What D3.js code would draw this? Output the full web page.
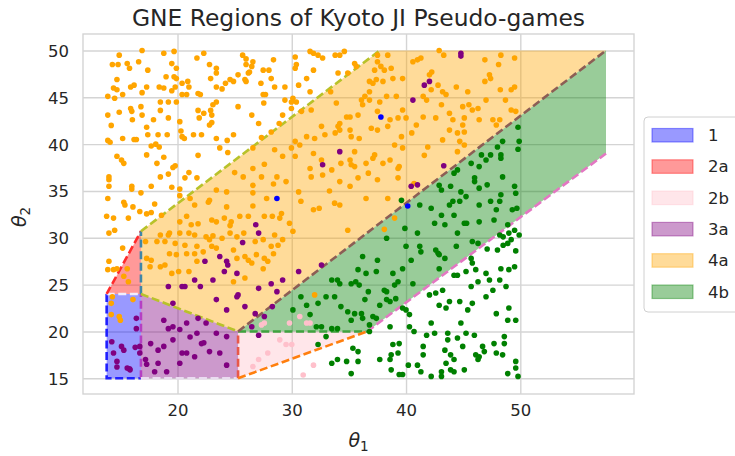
<!DOCTYPE html>
<html><head><meta charset="utf-8">
<script src="https://cdnjs.cloudflare.com/ajax/libs/d3/7.8.5/d3.min.js"></script>
<style>body{margin:0;background:#fff}svg{display:block}text{font-family:"DejaVu Sans",sans-serif;fill:#262626}</style>
</head><body><svg id="c" width="735" height="456"></svg>
<script>
const titleText = "GNE Regions of Kyoto JI Pseudo-games";
const xTicks = [20, 30, 40, 50];
const yTicks = [15, 20, 25, 30, 35, 40, 45, 50];
const legendLabels = ["1", "2a", "2b", "3a", "4a", "4b"];

const region1  = [[13.8,15],[16.8,15],[16.8,24],[13.8,24]];
const region2a = [[13.8,24],[16.8,30.7],[16.8,24]];
const region2b = [[25.3,20],[36.6,20],[25.3,15]];
const region3a = [[16.8,24],[25.3,20],[25.3,15],[16.8,15]];
const region4a = [[16.8,24],[16.8,30.7],[37.7,50],[57.5,50],[25.3,20]];
const region4b = [[25.3,20],[57.5,50],[57.5,39],[36.6,20]];

const boundaries = [
  [[13.8,24],[13.8,15],[16.8,15]],
  [[13.8,24],[16.8,24]],
  [[16.8,15],[16.8,24]],
  [[13.8,24],[16.8,30.7]],
  [[16.8,24],[16.8,30.7]],
  [[16.8,24],[25.3,20]],
  [[16.8,30.7],[37.7,50]],
  [[16.8,15],[25.3,15]],
  [[25.3,15],[25.3,20]],
  [[25.3,20],[36.6,20]],
  [[25.3,15],[36.6,20]],
  [[25.3,20],[57.5,50]],
  [[36.6,20],[57.5,39]]
];

const ptsOrange = [
[14.9,49.5],[16.9,50.0],[18.8,49.7],[19.7,49.9],[21.7,49.2],[22.3,49.7],[25.7,49.5],[26.0,49.1],[26.6,48.8],
[14.3,48.5],[14.8,48.5],[15.6,48.6],[15.8,48.1],[16.6,48.8],[17.4,47.9],[19.5,48.6],[19.9,48.1],[22.8,48.5],[23.4,48.1],[23.4,47.6],[26.0,48.5],[26.5,48.3],[26.3,47.7],[27.5,47.9],[28.0,47.9],
[14.7,46.9],[14.4,46.0],[14.7,45.8],[15.2,45.3],[15.9,46.1],[16.2,46.3],[16.9,45.5],[17.3,46.1],[18.4,46.1],[18.8,46.0],[19.0,47.2],[19.7,47.2],[19.9,47.0],[19.5,45.7],[19.8,46.1],[20.4,46.5],[20.9,46.7],[21.0,46.1],[20.4,45.3],[20.8,45.3],[21.8,45.4],[22.0,45.3],[22.9,47.0],[23.4,46.1],[23.9,45.9],[24.2,46.5],[24.6,46.9],[24.9,46.7],[25.3,47.4],[25.9,46.9],[26.2,47.6],[26.0,46.7],[27.3,46.5],[27.5,45.3],[13.9,45.1],[14.5,44.9],
[18.5,44.5],[19.2,44.5],[19.9,44.5],[15.9,43.8],[16.0,43.5],[16.8,44.0],[16.9,43.1],[18.5,43.6],[14.9,43.4],[13.9,43.1],[16.05,42.6],[17.9,42.6],[19.2,42.8],[20.2,42.4],[21.8,43.6],[21.9,42.8],[22.3,43.3],[23.0,43.1],[22.9,43.6],[23.4,44.5],[23.1,44.2],[25.3,44.0],[26.5,43.1],[27.1,42.2],[27.55,44.4],[27.7,45.3],
[14.2,42.0],[17.3,41.8],[17.4,41.0],[18.3,41.0],[19.1,41.0],[16.2,40.5],[16.4,40.5],[15.2,40.6],[13.9,40.4],[14.1,40.2],[20.3,41.4],[20.4,40.8],[20.6,40.6],[21.4,41.0],[22.1,41.0],[23.4,40.6],[24.35,40.4],[24.9,41.0],[22.8,42.05],[23.0,42.3],[17.7,39.8],[18.1,40.0],[18.4,39.7],
[14.7,38.7],[15.1,38.3],[15.3,37.95],[17.3,38.85],[18.8,38.6],[19.8,37.7],[19.6,37.5],[18.2,37.95],[21.8,38.8],[23.7,39.6],[24.4,39.1],[26.6,39.6],[27.35,40.7],[14.0,36.5],[14.0,36.2],[14.0,35.5],[16.0,35.5],[16.0,35.2],[16.8,34.8],[17.7,35.5],[18.5,36.5],[19.2,36.8],[20.65,36.4],[21.0,36.96],[21.7,36.4],[19.5,35.4],[20.2,35.2],[13.9,34.2],[15.3,33.8],[15.4,33.5],[16.1,33.3],[16.7,32.8],[17.3,32.55],[17.7,32.7],[18.0,33.6],
[25.0,36.96],[26.6,37.4],[25.75,36.5],[27.6,37.85],[27.35,36.5],[26.6,35.6],[23.4,35.1],[24.3,34.9],[22.8,34.0],[22.7,33.8],[21.5,33.5],[20.2,34.5],[21.1,34.2],[26.6,34.8],[26.6,33.4],[27.8,34.2],[24.3,33.3],
[13.8,32.3],[14.4,32.1],[15.7,32.1],[14.5,30.8],[14.0,30.5],[18.6,32.4],
[20.8,32.3],[20.2,31.7],[21.2,31.4],[21.8,31.5],[23.0,31.9],[23.4,31.7],[24.1,32.1],[24.7,31.7],[25.45,32.3],[26.2,32.3],[24.6,31.3],[19.3,30.5],[19.2,30.3],[18.5,30.3],[20.2,30.5],[21.0,30.5],[21.5,30.3],[22.5,30.1],[22.8,29.8],[23.1,30.2],[23.9,29.95],[24.6,30.5],[25.2,30.1],[25.8,30.5],
[17.2,29.6],[18.2,29.6],[18.9,29.6],[19.8,29.4],[20.65,29.2],[21.7,29.1],[22.25,28.5],[23.0,29.1],[23.4,28.9],[24.9,28.7],[17.3,27.8],[17.7,27.6],[19.3,28.3],[19.9,28.2],[20.8,28.3],[21.5,28.3],[21.7,27.5],[25.2,27.8],[25.9,28.0],[26.2,27.6],[17.6,26.9],[18.5,26.9],[18.9,27.1],[19.5,26.2],[20.1,26.4],[21.0,26.4],[24.9,25.3],[25.9,25.7],
[15.2,28.9],[14.0,27.5],[13.9,26.6],[14.4,26.6],[14.7,26.7],[15.6,26.7],[15.3,25.9],[15.7,25.3],[14.3,23.7],[14.2,23.0],[14.9,21.6],[15.0,21.2],[14.2,21.8],[16.1,23.4],
[30.8,33.9],[31.9,33.0],[32.4,33.15],[33.75,33.7],[34.2,33.5],[27.6,32.3],[28.3,32.3],[28.95,32.1],[29.1,32.6],[29.8,31.55],[30.1,30.7],[29.2,29.8],[26.8,29.6],[27.5,29.8],[28.2,29.1],[28.5,30.3],[26.9,28.2],[27.6,27.8],[27.9,27.5],[28.4,28.3],[28.8,29.2],[26.5,27.3],[27.5,26.7],[39.0,32.1],[38.1,30.9],[34.9,30.8],[32.0,23.9],
[42.9,50.0],[43.3,49.5],[40.6,48.8],[41.0,49.0],[41.3,49.2],[42.25,47.7],[42.05,47.4],[39.7,47.0],[42.8,46.3],[42.2,45.8],[43.2,45.6],[43.5,45.3],[44.4,46.1],[45.4,45.6],[46.9,49.0],[48.3,49.5],[49.5,49.2],[48.1,48.5],[47.3,47.4],[47.4,47.0],[46.9,46.7],[48.25,45.8],[49.2,45.8],[49.5,46.1],[48.7,44.7],[47.0,44.7],[41.5,45.1],[41.8,44.7],[39.7,43.65],[40.0,42.8],[40.9,42.05],[41.5,42.9],[42.6,42.8],[43.1,44.2],[43.8,43.3],[44.1,42.6],[44.96,44.0],[45.1,42.8],[44.96,42.05],[45.5,44.2],[45.8,43.65],[46.3,43.8],[46.4,42.6],[47.6,42.6],[47.9,42.05],[48.2,42.6],[49.2,43.65],[49.6,43.5],
[43.8,41.5],[43.2,40.45],[44.5,41.2],[44.7,40.3],[45.1,41.3],[45.1,39.9],[44.5,39.2],[41.9,39.7],[41.6,38.8],[39.4,37.6],[39.6,40.8],[39.7,39.6],[40.5,41.2],[40.7,35.8],
[28.4,49.0],[30.3,49.3],[31.6,49.9],[31.9,49.7],[32.3,49.5],[32.7,49.2],[33.8,49.5],[34.2,49.5],[34.6,49.9],[30.4,48.5],[30.3,48.1],[31.9,47.9],[28.2,47.0],[28.5,46.1],[29.4,46.1],[30.6,46.3],[31.3,47.0],[31.6,45.6],[34.05,47.6],[34.9,47.6],[35.5,48.6],[35.65,48.3],[29.4,44.7],[30.1,44.9],[29.97,44.5],[30.4,44.5],[29.97,43.8],[29.2,43.1],[28.9,42.2],[28.2,41.3],[33.4,45.6],
[37.5,49.5],[38.4,49.5],[37.5,48.8],[37.8,48.3],[37.25,47.9],[38.1,47.9],[38.7,48.1],[38.85,47.0],[36.8,46.7],[37.1,46.5],[37.4,46.9],[37.98,46.7],[36.8,45.6],[36.4,45.1],[36.1,44.7],[36.8,44.7],[37.7,44.5],[38.3,45.1],[33.9,44.4],[34.8,42.9],[35.1,42.9],[35.8,43.1],[36.2,44.2],[37.5,43.5],[39.15,45.1],[31.7,43.65],[30.85,43.5],[34.2,42.2],[34.05,41.9],[33.8,41.2],[32.6,41.9],[32.9,41.0],[32.0,40.6],[31.3,40.8],[30.7,39.9],[30.3,40.3],[29.97,39.6],[28.5,39.4],[29.2,38.7],[30.3,38.7],[31.9,39.0],[32.6,38.3],[31.6,37.4],[34.2,41.5],[35.1,41.5],[35.9,40.6],[35.2,40.8],[36.96,41.7],[37.5,41.5],[38.4,41.9],[38.6,42.6],[39.3,42.8],[39.0,39.9],[35.5,39.2],[35.1,38.3],[35.2,37.8],[35.5,37.6],[36.5,37.95],[37.1,38.5],[37.25,38.85],[37.98,37.95],[38.6,38.3],[34.3,37.95],[33.5,37.25],[32.7,36.7],[31.7,36.5],[28.7,36.5],[28.4,35.75],[29.5,36.0],[30.6,34.9],[33.3,35.0],[34.2,36.0],[35.1,35.5],[35.8,36.4],[36.7,36.9],[37.5,36.2],[39.3,37.4],[39.3,36.4],[38.4,34.2],[36.5,34.2]
];

const ptsPurple = [
[25.7,29.5],[22.4,27.5],[23.7,28.0],[24.3,27.5],[24.4,27.1],[21.5,25.5],[23.1,25.5],[24.1,26.4],[25.2,26.2],[19.2,24.8],[20.4,24.8],[20.65,24.8],[22.0,24.8],[23.4,23.4],[24.3,22.3],[25.2,23.7],[25.3,23.9],[25.9,22.65],[19.6,23.0],
[14.25,18.9],[15.1,18.4],[15.3,18.0],[14.4,17.7],[14.7,16.8],[15.6,16.1],[15.8,16.0],[16.4,20.3],[16.7,17.7],[16.7,18.4],[17.2,17.0],[17.3,16.5],[17.65,18.7],[18.0,15.7],[18.3,16.6],[19.05,15.7],[18.8,21.2],[19.2,20.3],[19.6,20.5],[20.2,20.2],[20.8,20.9],[21.8,21.4],[22.5,20.9],[21.1,19.4],[21.7,19.8],[22.1,18.7],[22.3,18.8],[23.4,19.8],[24.3,19.45],[24.3,16.4],[20.2,16.6],[20.8,17.7],[21.5,17.3],[22.8,17.85],[23.7,17.7],[18.8,18.4],[19.6,19.1],[20.4,17.7],[18.3,18.0],
[16.4,21.4],[16.3,18.3],[14.7,16.2],[15.85,15.9],
[26.85,31.4],[27.1,30.5],[30.6,26.4],[32.6,27.1],[28.2,25.1],[29.2,25.5],[27.1,24.6],[28.7,24.25],[28.3,22.65],[26.5,20.5],[27.1,19.6],[26.8,21.9],[27.6,21.6],
[44.8,49.7],[44.8,49.4],[41.6,46.3],[42.05,46.7],[40.6,44.7],[40.45,35.5],[41.0,35.65],[43.3,37.7],
[34.2,39.2],[32.7,37.8]
];

const ptsGreen = [
[39.6,34.0],[41.2,33.5],[39.9,31.0],[41.0,30.5],[38.3,29.95],[40.0,29.1],[41.2,29.1],[41.3,28.5],[36.2,28.0],[37.5,27.6],[39.7,26.7],[40.45,27.6],[40.6,25.1],[35.8,26.6],[36.5,26.2],[37.4,26.4],[38.85,26.2],[33.5,25.5],[34.0,25.5],[34.2,25.1],[35.2,25.1],[35.6,25.3],[35.9,24.95],[36.7,24.25],[38.1,24.4],[38.3,24.25],[39.0,24.95],[39.3,25.3],[30.8,23.7],[31.3,22.8],[32.3,23.0],[33.0,23.7],[33.75,23.7],[34.3,22.65],[34.9,22.1],[35.5,21.9],[36.1,21.9],[36.4,23.4],[37.7,22.8],[38.3,23.4],[38.6,23.2],[39.1,23.5],[39.7,22.5],[30.1,22.3],[31.6,21.8],[37.1,21.6],[37.4,21.4],[36.2,21.4],[32.15,20.5],[32.6,20.5],[33.5,20.3],[34.0,20.3],[35.2,21.2],[36.8,20.7],
[33.0,19.45],[32.3,18.6],[35.35,18.2],[35.8,17.85],[34.8,16.8],[33.5,16.6],[34.0,17.0],[35.2,15.5],[35.8,16.8],[36.8,20.0],[38.6,20.5],[40.0,22.3],[40.3,21.8],[40.7,20.0],[41.8,19.6],[37.7,17.0],[38.85,18.6],[39.4,18.7],[38.7,17.5],[38.6,17.0],[38.7,15.9],[39.4,15.4],[39.7,15.4],[41.5,18.4],[41.5,17.5],[40.2,16.4],[41.0,16.4],[41.3,15.7],[40.3,20.5],[39.3,17.7],
[49.8,41.8],[49.9,40.3],[49.8,39.45],[48.45,40.3],[48.0,39.7],[47.4,38.85],[47.0,38.3],[46.6,38.85],[48.3,38.85],[48.3,38.5],[45.7,37.95],[46.4,37.6],[44.5,37.25],[44.2,36.9],[42.9,35.6],[43.1,35.1],[43.9,35.5],[44.8,34.9],[45.25,34.4],[46.0,36.4],[46.0,36.0],[46.4,35.3],[47.1,35.65],[48.3,34.6],[48.45,36.5],[49.5,35.5],[49.6,34.75],
[42.2,33.15],[43.8,33.5],[44.1,33.9],[44.7,33.9],[46.4,33.5],[47.4,33.9],[48.2,33.9],[47.9,33.0],[49.3,33.0],[49.7,33.15],[43.1,32.4],[44.2,32.4],[42.5,31.55],[43.4,31.4],[45.1,31.55],[45.3,31.55],[46.4,31.7],[47.7,31.9],[48.9,31.4],[49.5,30.8],[49.0,30.5],[49.9,30.3],[44.5,30.5],[48.2,30.3],[48.5,30.1],[45.8,29.6],[46.3,29.4],[49.2,29.8],[48.9,29.4],[48.5,29.2],[42.6,28.7],[42.8,28.35],[42.9,28.2],[43.4,27.8],[44.4,29.1],[47.1,28.8],[48.0,28.7],[49.6,28.6],[45.7,27.8],[45.8,27.3],[46.1,26.6],[42.9,26.7],[44.2,26.0],[44.5,26.0],[45.25,26.4],[47.0,26.2],[48.3,26.7],[49.0,26.6],[49.5,26.9],[47.3,25.5],[48.2,25.5],[45.7,24.8],[46.3,25.3],[47.6,24.4],[48.75,24.8],[43.2,24.4],[42.6,24.1],[42.05,23.9],[47.0,23.7],[43.8,23.2],[42.9,22.8],[43.5,22.5],[44.7,23.2],[45.8,23.0],[45.4,22.3],[49.0,22.5],[47.9,21.9],[48.9,21.2],[49.6,21.2],[42.2,20.9],[44.8,20.9],[42.5,19.8],[43.65,19.8],[44.5,19.3],[45.25,19.8],[45.98,19.6],[43.4,18.0],[43.65,19.1],[43.9,17.5],[44.2,17.0],[44.96,18.4],[46.7,18.4],[46.1,17.5],[46.3,17.0],[46.4,17.3],[46.85,17.85],[47.7,18.7],[47.9,17.7],[48.45,17.5],[48.6,18.7],[48.6,19.45],[43.5,16.6],[43.9,15.9],[44.2,15.7],[45.1,15.9],[49.6,16.8],[49.6,16.1],[49.8,15.2],[48.9,15.5],[43.1,15.7],[43.1,15.2],[42.2,15.2]
];

const ptsPink = [[30.7,21.6],[27.35,20.7],[27.6,20.9],[29.8,20.9],[31.3,20.9],[31.6,20.9],[28.95,19.1],[29.5,18.6],[30.0,18.6],[27.9,17.7],[27.1,17.0],[26.6,16.25],[31.9,16.4],[31.0,15.35]];
const ptsBlue = [[40.15,33.4],[37.8,42.9],[28.7,34.2]];

// ---------- styles ----------
const regionFill = ["blue", "red", "pink", "purple", "orange", "green"];
const boundaryColors = ["#1f1fff", "#f2eefc", "#b53fc4", "#ff2b2b", "#3f86a8", "#b8c22a", "#b8c22a", "#eadcf0", "#e8584a", "#3fa33f", "#ff7f0e", "#8c5e55", "#e377c2"];

const m = {left: 83, right: 634, top: 34, bottom: 394};
const x = d3.scaleLinear().domain([11.73, 59.95]).range([m.left, m.right]);
const y = d3.scaleLinear().domain([13.32, 51.76]).range([m.bottom, m.top]);
const svg = d3.select("#c");

svg.append("rect").attr("x", m.left).attr("y", m.top).attr("width", m.right - m.left).attr("height", m.bottom - m.top).attr("fill", "#fff");
const xAxis = d3.axisBottom(x).tickValues(xTicks).tickSize(-(m.bottom - m.top)).tickPadding(10);
const yAxis = d3.axisLeft(y).tickValues(yTicks).tickSize(-(m.right - m.left)).tickPadding(14);
const gx = svg.append("g").attr("transform", `translate(0,${m.bottom})`).call(xAxis);
const gy = svg.append("g").attr("transform", `translate(${m.left},0)`).call(yAxis);
[gx, gy].forEach(a => {
  a.select(".domain").remove();
  a.selectAll(".tick line").attr("stroke", "#d4d4d4").attr("stroke-width", 1.4);
  a.selectAll(".tick text").attr("font-size", 16.5).attr("fill", "#262626").attr("font-family", "DejaVu Sans");
});
gy.selectAll(".tick text").attr("dy", "0.36em");
gx.selectAll(".tick text").attr("dy", "0.75em");

const regions = [region1, region2a, region2b, region3a, region4a, region4b];
const line = d3.line().x(d => x(d[0])).y(d => y(d[1]));
svg.append("g").selectAll("path").data(regions).join("path")
  .attr("d", d => line(d) + "Z")
  .attr("fill", (d, i) => regionFill[i]).attr("fill-opacity", 0.4).attr("stroke", "none");

svg.append("g").selectAll("path").data(boundaries).join("path")
  .attr("d", d => line(d)).attr("fill", "none")
  .attr("stroke", (d, i) => boundaryColors[i]).attr("stroke-width", 2.6)
  .attr("stroke-dasharray", "8,3.6");

const sets = [[ptsOrange, "orange"], [ptsPurple, "purple"], [ptsGreen, "green"], [ptsPink, "pink"], [ptsBlue, "blue"]];
const pg = svg.append("g");
sets.forEach(([pts, col]) => {
  pg.append("g").selectAll("circle").data(pts).join("circle")
    .attr("cx", d => x(d[0])).attr("cy", d => y(d[1])).attr("r", 2.8).attr("fill", col);
});

svg.append("rect").attr("x", m.left).attr("y", m.top).attr("width", m.right - m.left).attr("height", m.bottom - m.top)
  .attr("fill", "none").attr("stroke", "#d4d4d4").attr("stroke-width", 1.4);

svg.append("text").attr("x", (m.left + m.right) / 2).attr("y", 26).attr("text-anchor", "middle")
  .attr("font-size", 23.4).text(titleText);
const xl = svg.append("text").attr("x", (m.left + m.right) / 2).attr("y", 447).attr("text-anchor", "middle").attr("font-size", 19);
xl.append("tspan").attr("font-style", "italic").text("θ");
xl.append("tspan").attr("font-size", 13.5).attr("dy", 4).text("1");
const yl = svg.append("text").attr("transform", "translate(26,217) rotate(-90)").attr("text-anchor", "middle").attr("font-size", 19);
yl.append("tspan").attr("font-style", "italic").text("θ");
yl.append("tspan").attr("font-size", 13.5).attr("dy", 4).text("2");

const lg = svg.append("g").attr("transform", "translate(644,117)");
lg.append("rect").attr("x", 0).attr("y", 0).attr("width", 110).attr("height", 195).attr("rx", 4)
  .attr("fill", "#fff").attr("fill-opacity", 0.8).attr("stroke", "#d0d0d0").attr("stroke-width", 1);
legendLabels.forEach((lab, i) => {
  const cy = 18 + i * 31.3;
  lg.append("rect").attr("x", 8).attr("y", cy - 6.5).attr("width", 41).attr("height", 13.5)
    .attr("fill", regionFill[i]).attr("fill-opacity", 0.4)
    .attr("stroke", regionFill[i]).attr("stroke-opacity", 0.4).attr("stroke-width", 1.2);
  lg.append("text").attr("x", 64).attr("y", cy + 6).attr("font-size", 16.5).text(lab);
});
</script></body></html>
